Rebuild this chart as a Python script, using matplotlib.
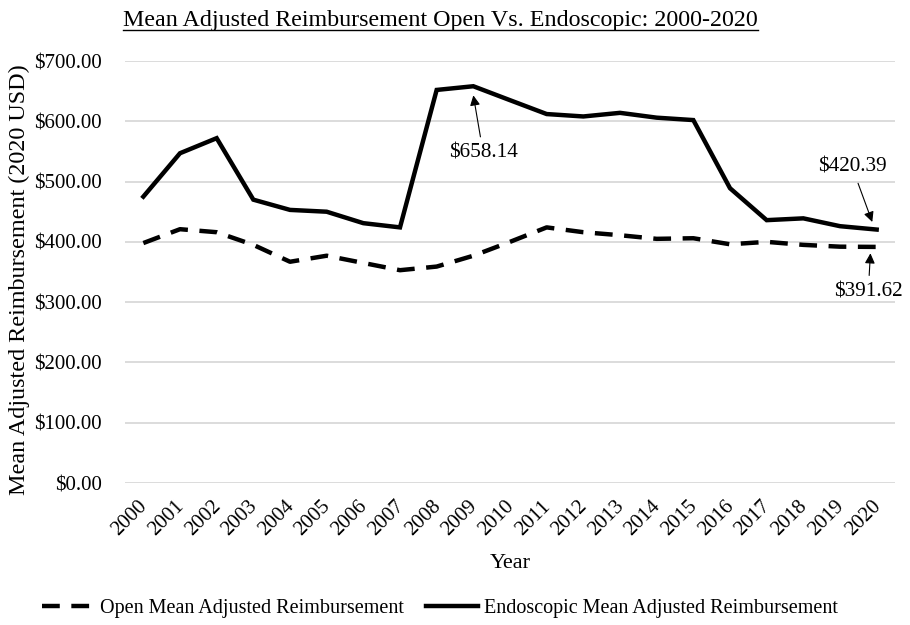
import matplotlib.pyplot as plt
import matplotlib.transforms as mtransforms
from matplotlib.ticker import FuncFormatter

plt.rcParams['font.family'] = ['Liberation Serif', 'DejaVu Serif']

years = [str(y) for y in range(2000, 2021)]
open_vals = [398, 421, 416, 395, 367, 377, 365, 353, 359, 377, 400,
             424, 416, 411, 405, 406, 396, 400, 395, 392, 391.62]
endo_vals = [475, 547, 572, 470, 453, 450, 431, 424, 652, 658.14, 635,
             612, 608, 614, 606, 602, 489, 436, 439, 426, 420.39]

fig = plt.figure(figsize=(9.1, 6.25), dpi=100)
ax = fig.add_axes([125 / 910, 1 - 483 / 625, 770 / 910, 422 / 625])

x = list(range(len(years)))
ax.plot(x, open_vals, color='black', lw=3.2, ls=(0, (4, 2.6)),
        label='Open Mean Adjusted Reimbursement')
ax.plot(x, endo_vals, color='black', lw=3.2, solid_joinstyle='miter',
        label='Endoscopic Mean Adjusted Reimbursement')

ax.set_xlim(-0.5, len(years) - 0.5)
ax.set_ylim(0, 700)
ax.set_yticks(range(0, 701, 100))
ax.yaxis.set_major_formatter(FuncFormatter(lambda v, p: '${:,.2f}'.format(v)))
ax.set_xticks(x)
ax.set_xticklabels(years, rotation=45, ha='right', rotation_mode='anchor')
ax.tick_params(axis='both', length=0, labelsize=15)
ax.tick_params(axis='x', pad=10)
ax.tick_params(axis='y', pad=16.5)
# nudge the year labels a little to the left
shift = mtransforms.ScaledTranslation(-4 / 72, 0, fig.dpi_scale_trans)
for lab in ax.get_xticklabels():
    lab.set_transform(lab.get_transform() + shift)
ax.grid(axis='y', color='#d9d9d9', lw=1.3)
ax.set_axisbelow(True)
for s in ax.spines.values():
    s.set_visible(False)

ax.set_ylabel('Mean Adjusted Reimbursement (2020 USD)', fontsize=17.4, va='center')
ax.yaxis.set_label_coords(-0.1377, 0.481)
ax.set_xlabel('Year', fontsize=16, va='center')
ax.xaxis.set_label_coords(0.5, -80 / 422)

# title, left aligned and underlined like the original
fig.text(123 / 910, 1 - 26 / 625, 'Mean Adjusted Reimbursement Open Vs. Endoscopic: 2000-2020',
         fontsize=17.3, ha='left', va='baseline')
fig.canvas.draw()
t = fig.texts[0].get_window_extent().transformed(fig.transFigure.inverted())
fig.add_artist(plt.Line2D([t.x0, t.x1], [1 - 29.5 / 625] * 2,
                          color='black', lw=1.0, transform=fig.transFigure))

arrow = dict(arrowstyle='-|>', color='black', lw=0.8, mutation_scale=15, shrinkA=3, shrinkB=0)
ax.annotate('$658.14', xy=(9.0, 643), xytext=(9.27, 547), fontsize=15.3,
            ha='center', va='center', arrowprops=arrow)
ax.annotate('$420.39', xy=(19.88, 433), xytext=(19.33, 524), fontsize=15.3,
            ha='center', va='center', arrowprops=arrow)
ax.annotate('$391.62', xy=(19.83, 381), xytext=(19.77, 317), fontsize=15.3,
            ha='center', va='center', arrowprops=arrow)

fig.legend(loc='center', bbox_to_anchor=(0.4835, 1 - 608 / 625), ncol=2, frameon=False,
           fontsize=14.5, handlelength=2.6, columnspacing=1.1, handletextpad=0.3)

fig.savefig('out.png', dpi=100)
